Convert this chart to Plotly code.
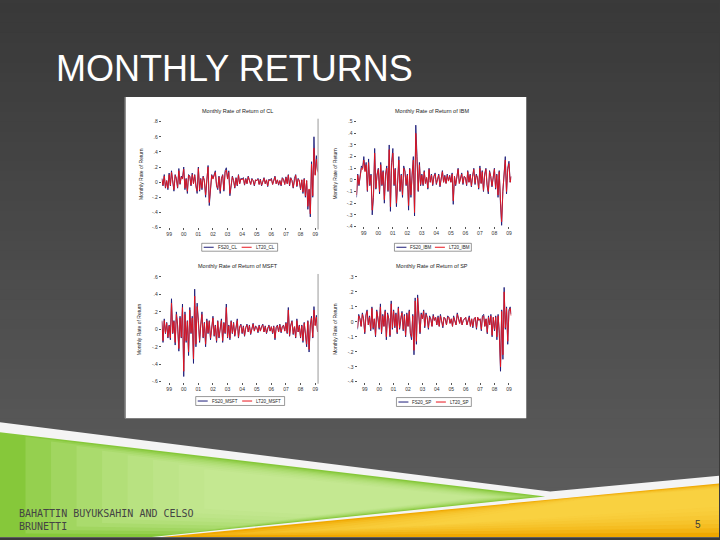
import plotly.graph_objects as go
import pandas as pd

# ---------------- data ----------------
dates = pd.date_range("1998-07-01", periods=129, freq="MS")
year_ticks = pd.date_range("1999-01-01", periods=11, freq="12MS")
year_labels = ["99", "00", "01", "02", "03", "04", "05", "06", "07", "08", "09"]

titles = ["Monthly Rate of Return of CL", "Monthly Rate of Return of IBM",
          "Monthly Rate of Return of MSFT", "Monthly Rate of Return of SP"]
fs_names = ["FS20_CL", "FS20_IBM", "FS20_MSFT", "FS20_SP"]
lt_names = ["LT20_CL", "LT20_IBM", "LT20_MSFT", "LT20_SP"]

cl_fs = [0.05,-0.05,0.10,-0.08,0.02,-0.10,
0.12,-0.05,0.15,0.02,-0.12,0.10,0.05,-0.08,0.18,-0.03,0.08,0.05,
0.20,-0.10,0.05,-0.15,0.10,0.08,-0.05,0.12,-0.02,0.10,-0.08,-0.15,
0.20,-0.12,0.05,-0.10,0.08,0.02,-0.20,0.05,0.22,-0.31,-0.05,0.10,
0.05,0.12,0.15,-0.05,-0.10,0.08,-0.15,0.05,0.10,-0.12,0.15,0.19,
0.05,0.15,-0.18,-0.05,0.08,0.02,-0.08,0.06,-0.05,0.10,-0.02,0.05,
0.04,0.06,-0.04,0.05,-0.02,0.08,0.03,-0.03,0.05,0.02,-0.05,0.03,
0.02,0.05,-0.03,0.04,-0.05,0.02,0.06,-0.02,0.03,-0.06,0.04,0.02,
0.05,-0.03,0.03,0.08,-0.02,0.03,-0.04,0.02,-0.05,0.06,0.04,-0.03,
0.07,-0.02,0.10,-0.05,0.06,0.02,-0.08,0.05,0.10,-0.06,0.05,0.02,
-0.10,0.03,-0.15,0.05,-0.20,0.02,-0.36,-0.10,-0.46,0.27,-0.20,0.60,
0.10,0.35,0.15]
cl_lt = [0.04,-0.04,0.08,-0.07,0.02,-0.08,
0.10,-0.04,0.13,0.02,-0.10,0.09,0.04,-0.07,0.15,-0.02,0.07,0.04,
0.17,-0.08,0.04,-0.12,0.09,0.07,-0.04,0.10,-0.02,0.09,-0.07,-0.12,
0.18,-0.10,0.04,-0.08,0.07,0.02,-0.17,0.04,0.20,-0.27,-0.04,0.09,
0.04,0.10,0.13,-0.04,-0.08,0.07,-0.12,0.04,0.09,-0.10,0.13,0.16,
0.04,0.13,-0.15,-0.04,0.07,0.02,-0.07,0.05,-0.04,0.09,-0.02,0.04,
0.03,0.05,-0.03,0.04,-0.02,0.07,0.03,-0.03,0.04,0.02,-0.04,0.03,
0.02,0.04,-0.03,0.03,-0.04,0.02,0.05,-0.02,0.03,-0.05,0.03,0.02,
0.04,-0.03,0.03,0.07,-0.02,0.03,-0.03,0.02,-0.04,0.05,0.03,-0.03,
0.06,-0.02,0.09,-0.04,0.05,0.02,-0.07,0.04,0.09,-0.05,0.04,0.02,
-0.09,0.03,-0.13,0.04,-0.18,0.02,-0.32,-0.09,-0.42,0.24,-0.18,0.45,
0.09,0.30,0.13]

ibm_fs = [-0.15,0.05,-0.05,0.02,0.12,0.10,
0.20,0.08,0.15,-0.10,0.18,-0.05,0.05,-0.30,-0.15,0.27,-0.08,0.05,
0.10,-0.12,0.15,-0.05,0.08,-0.20,0.05,0.12,-0.10,0.30,-0.27,0.15,
0.27,-0.05,0.10,-0.23,0.02,0.20,-0.10,0.05,-0.15,0.12,0.08,-0.05,
0.05,-0.26,0.10,-0.15,0.05,0.20,-0.31,0.47,0.20,-0.10,0.15,-0.05,
0.05,-0.05,0.08,-0.03,0.02,-0.08,0.10,-0.02,0.05,-0.05,0.03,0.06,
-0.04,0.02,0.05,-0.06,0.03,0.08,-0.02,0.04,-0.03,0.05,-0.01,0.04,
-0.02,0.06,-0.21,0.03,-0.05,0.05,0.10,-0.03,0.02,0.06,-0.04,0.03,
0.02,-0.05,0.08,-0.02,0.05,-0.06,0.03,0.10,-0.04,0.05,0.02,-0.08,
0.12,-0.03,0.08,-0.10,0.05,0.10,-0.05,-0.12,0.08,0.03,-0.06,0.05,
0.10,-0.08,0.05,-0.15,0.08,-0.20,-0.39,-0.10,0.05,0.20,-0.12,0.10,
0.16,-0.02,0.03]
ibm_lt = [-0.13,0.04,-0.04,0.02,0.10,0.09,
0.17,0.07,0.13,-0.09,0.15,-0.04,0.04,-0.26,-0.13,0.23,-0.07,0.04,
0.09,-0.10,0.13,-0.04,0.07,-0.17,0.04,0.10,-0.09,0.26,-0.23,0.13,
0.23,-0.04,0.09,-0.20,0.02,0.17,-0.09,0.04,-0.13,0.10,0.07,-0.04,
0.04,-0.22,0.09,-0.13,0.04,0.17,-0.28,0.40,0.17,-0.09,0.13,-0.04,
0.04,-0.04,0.07,-0.03,0.02,-0.07,0.09,-0.02,0.04,-0.04,0.03,0.05,
-0.03,0.02,0.04,-0.05,0.03,0.07,-0.02,0.03,-0.03,0.04,-0.01,0.03,
-0.02,0.05,-0.18,0.03,-0.04,0.04,0.09,-0.03,0.02,0.05,-0.03,0.03,
0.02,-0.04,0.07,-0.02,0.04,-0.05,0.03,0.09,-0.03,0.04,0.02,-0.07,
0.10,-0.03,0.07,-0.09,0.04,0.09,-0.04,-0.10,0.07,0.03,-0.05,0.04,
0.09,-0.07,0.04,-0.13,0.07,-0.17,-0.36,-0.09,0.04,0.17,-0.10,0.09,
0.14,-0.02,0.03]

msft_fs = [0.10,-0.15,0.12,-0.05,0.08,-0.10,
0.05,-0.12,0.35,-0.05,0.10,-0.18,0.20,0.05,-0.25,0.15,-0.10,0.29,
-0.54,0.20,-0.15,0.10,-0.30,0.25,-0.05,0.15,-0.39,0.46,-0.20,0.30,
0.10,-0.15,0.05,0.20,-0.10,0.08,-0.20,0.12,-0.05,0.10,-0.12,0.05,
0.15,-0.08,0.05,-0.15,0.10,-0.10,0.05,0.12,-0.15,0.08,-0.05,0.29,
-0.10,0.05,-0.12,0.10,-0.05,0.08,-0.08,0.05,0.12,-0.10,0.03,0.06,
-0.05,0.04,-0.08,0.02,0.06,-0.03,0.05,-0.06,0.03,0.07,-0.02,0.04,
0.02,-0.04,0.05,-0.02,0.03,0.06,-0.03,0.04,-0.05,0.02,0.05,-0.02,
0.03,-0.05,0.04,-0.12,0.02,0.05,-0.03,0.06,-0.04,0.03,0.05,-0.02,
0.08,-0.05,0.25,-0.08,0.05,0.10,-0.06,0.03,-0.10,0.12,-0.03,0.05,
-0.10,0.05,-0.15,0.08,-0.05,-0.20,0.10,-0.26,0.05,0.15,-0.10,0.26,
0.05,0.16,-0.03]
msft_lt = [0.09,-0.13,0.10,-0.04,0.07,-0.09,
0.04,-0.10,0.30,-0.04,0.09,-0.15,0.17,0.04,-0.22,0.13,-0.09,0.25,
-0.48,0.17,-0.13,0.09,-0.26,0.22,-0.04,0.13,-0.34,0.38,-0.17,0.26,
0.09,-0.13,0.04,0.17,-0.09,0.07,-0.17,0.10,-0.04,0.09,-0.10,0.04,
0.13,-0.07,0.04,-0.13,0.09,-0.09,0.04,0.10,-0.13,0.07,-0.04,0.25,
-0.09,0.04,-0.10,0.09,-0.04,0.07,-0.07,0.04,0.10,-0.09,0.03,0.05,
-0.04,0.03,-0.07,0.02,0.05,-0.03,0.04,-0.05,0.03,0.06,-0.02,0.03,
0.02,-0.03,0.04,-0.02,0.03,0.05,-0.03,0.03,-0.04,0.02,0.04,-0.02,
0.03,-0.04,0.03,-0.10,0.02,0.04,-0.03,0.05,-0.03,0.03,0.04,-0.02,
0.07,-0.04,0.22,-0.07,0.04,0.09,-0.05,0.03,-0.09,0.10,-0.03,0.04,
-0.09,0.04,-0.13,0.07,-0.04,-0.17,0.09,-0.23,0.04,0.13,-0.09,0.22,
0.04,0.14,-0.03]

sp_fs = [-0.05,0.05,0.02,-0.03,0.06,0.02,
-0.08,0.05,0.08,-0.02,0.04,-0.06,0.10,-0.05,0.02,-0.10,0.08,0.03,
-0.05,0.12,-0.08,0.05,-0.03,0.08,-0.12,0.06,0.02,-0.10,0.14,-0.05,
0.08,-0.04,0.06,-0.08,0.10,-0.05,0.03,0.07,-0.06,0.05,-0.10,0.06,
-0.03,0.08,-0.08,-0.12,0.05,-0.22,0.16,-0.15,0.18,0.05,-0.08,0.06,
0.02,0.08,-0.04,0.06,0.03,-0.05,0.04,0.02,-0.03,0.05,0.01,0.03,
-0.02,0.04,-0.03,0.05,0.01,-0.04,0.03,0.02,-0.02,0.04,0.03,-0.01,
0.02,-0.03,0.04,0.01,-0.02,0.06,0.02,-0.01,0.03,-0.02,0.01,0.02,
0.03,-0.02,0.01,0.04,-0.03,0.02,-0.04,0.02,0.03,-0.05,0.03,0.01,
0.02,-0.06,0.04,0.05,-0.03,0.02,-0.08,0.04,-0.02,0.05,-0.10,0.03,
-0.06,0.04,-0.12,0.05,-0.08,-0.33,0.08,-0.25,0.23,-0.05,0.10,-0.15,
0.08,0.10,0.05]
sp_lt = [-0.04,0.04,0.02,-0.03,0.05,0.02,
-0.07,0.04,0.07,-0.02,0.03,-0.05,0.09,-0.04,0.02,-0.09,0.07,0.03,
-0.04,0.10,-0.07,0.04,-0.03,0.07,-0.10,0.05,0.02,-0.09,0.12,-0.04,
0.07,-0.03,0.05,-0.07,0.09,-0.04,0.03,0.06,-0.05,0.04,-0.09,0.05,
-0.03,0.07,-0.07,-0.10,0.04,-0.19,0.14,-0.13,0.16,0.04,-0.07,0.05,
0.02,0.07,-0.03,0.05,0.03,-0.04,0.03,0.02,-0.03,0.04,0.01,0.03,
-0.02,0.03,-0.03,0.04,0.01,-0.03,0.03,0.02,-0.02,0.03,0.03,-0.01,
0.02,-0.03,0.03,0.01,-0.02,0.05,0.02,-0.01,0.03,-0.02,0.01,0.02,
0.03,-0.02,0.01,0.03,-0.03,0.02,-0.03,0.02,0.03,-0.04,0.03,0.01,
0.02,-0.05,0.03,0.04,-0.03,0.02,-0.07,0.03,-0.02,0.04,-0.09,0.03,
-0.05,0.03,-0.10,0.04,-0.07,-0.30,0.07,-0.22,0.20,-0.04,0.09,-0.13,
0.07,0.09,0.04]

cl_yticks = [0.8, 0.6, 0.4, 0.2, 0, -0.2, -0.4, -0.6]
cl_ylabels = [".8", ".6", ".4", ".2", "0", "-.2", "-.4", "-.6"]
ibm_yticks = [0.5, 0.4, 0.3, 0.2, 0.1, 0, -0.1, -0.2, -0.3, -0.4]
ibm_ylabels = [".5", ".4", ".3", ".2", ".1", "0", "-.1", "-.2", "-.3", "-.4"]
msft_yticks = [0.6, 0.4, 0.2, 0, -0.2, -0.4, -0.6]
msft_ylabels = [".6", ".4", ".2", "0", "-.2", "-.4", "-.6"]
sp_yticks = [0.3, 0.2, 0.1, 0, -0.1, -0.2, -0.3, -0.4]
sp_ylabels = [".3", ".2", ".1", "0", "-.1", "-.2", "-.3", "-.4"]

series_fs = [cl_fs, ibm_fs, msft_fs, sp_fs]
series_lt = [cl_lt, ibm_lt, msft_lt, sp_lt]
yticks = [cl_yticks, ibm_yticks, msft_yticks, sp_yticks]
ylabels = [cl_ylabels, ibm_ylabels, msft_ylabels, sp_ylabels]

# ---------------- layout helpers ----------------
W, H = 720, 540
def X(px): return px / W
def Y(py): return 1 - py / H

def poly(pts, color, opacity=1.0):
    path = "M " + " L ".join(f"{X(x):.5f},{Y(y):.5f}" for x, y in pts) + " Z"
    return dict(type="path", xref="paper", yref="paper", path=path,
                fillcolor=color, line=dict(width=0), opacity=opacity, layer="below")

def rect(x0, y0, x1, y1, color, opacity=1.0, line=None):
    return dict(type="rect", xref="paper", yref="paper", x0=X(x0), x1=X(x1),
                y0=Y(y1), y1=Y(y0), fillcolor=color, opacity=opacity,
                line=line or dict(width=0), layer="below")

def lerp(c1, c2, t):
    a = [int(c1[i:i + 2], 16) for i in (1, 3, 5)]
    b = [int(c2[i:i + 2], 16) for i in (1, 3, 5)]
    return "#" + "".join(f"{round(a[k] + (b[k] - a[k]) * t):02x}" for k in range(3))

def blend_pts(outer, inner, t):
    return [(o[0] + (i[0] - o[0]) * t, o[1] + (i[1] - o[1]) * t) for o, i in zip(outer, inner)]

def text(t, x, y, size, color="#222222", family="Liberation Sans", xanchor="center",
         angle=0, align="center"):
    return dict(text=t, x=X(x), y=Y(y), xref="paper", yref="paper", xanchor=xanchor,
                yanchor="middle", showarrow=False, textangle=angle, align=align,
                font=dict(size=size, color=color, family=family))

shapes = []
# background gradient
n = 54
for i in range(n):
    shapes.append(rect(0, i * 10, W, (i + 1) * 10 + 1, lerp("#393939", "#5e5e5e", i / (n - 1))))

# bottom swoosh
shapes.append(poly([(0, 424), (551, 494), (720, 478), (720, 540), (0, 540)], "#f4f4f4"))
green_outer = [(0, 434), (546, 499), (152, 540), (0, 540)]
green_core = [(230, 476), (470, 500), (340, 515), (230, 508)]
shapes.append(poly(green_outer, "#86c83a"))
for s in range(1, 9):
    shapes.append(poly(blend_pts(green_outer, green_core, s / 9), "#d2eea6", opacity=0.2))
yellow_outer = [(562, 501), (720, 486), (720, 540), (162, 540)]
yellow_core = [(600, 500), (720, 492), (720, 505), (450, 528)]
shapes.append(poly(yellow_outer, "#f0a800"))
for s in range(1, 8):
    shapes.append(poly(blend_pts(yellow_outer, yellow_core, s / 8), "#fbd94a", opacity=0.25))

# white picture area
shapes.append(rect(125, 95, 527, 420, "#ffffff"))
shapes.append(dict(type="line", xref="paper", yref="paper", x0=X(125.5), x1=X(125.5),
                   y0=Y(95), y1=Y(420), line=dict(color="#777777", width=1), layer="below"))

# panel geometry (pixels): x0, x1, ytop, ybottom
panels = [(162, 318, 120, 227), (357, 512, 120, 226),
          (162, 318, 277, 383), (358, 512, 277, 383)]
title_pos = [(238, 109), (433, 109), (238, 266), (433, 266)]
ytitle_pos = [(141, 173), (336, 173), (140, 330), (336, 330)]
legend_box = [(202, 243, 278, 251), (395, 243, 472, 251),
              (196, 398, 285, 407), (397, 399, 472, 408)]

fig = go.Figure()
annotations = []
layout = dict(width=W, height=H, margin=dict(l=0, r=0, t=0, b=0),
              paper_bgcolor="#3a3a3a", plot_bgcolor="rgba(0,0,0,0)", showlegend=False)

NAVY = "#1c1c78"
RED = "#e8141c"
for k in range(4):
    sx = "" if k == 0 else str(k + 1)
    x0, x1, yt, yb = panels[k]
    fig.add_trace(go.Scatter(x=dates, y=series_fs[k], mode="lines", name=fs_names[k],
                             line=dict(color=NAVY, width=0.9), xaxis="x" + sx, yaxis="y" + sx))
    fig.add_trace(go.Scatter(x=dates, y=series_lt[k], mode="lines", name=lt_names[k],
                             line=dict(color=RED, width=0.9), xaxis="x" + sx, yaxis="y" + sx))
    common = dict(showgrid=False, zeroline=False, showline=False, ticks="outside", ticklen=2,
                  tickwidth=0.5, tickcolor="#555555",
                  tickfont=dict(size=5, color="#333333", family="Liberation Sans"))
    layout["xaxis" + sx] = dict(domain=[X(x0), X(x1)], anchor="y" + sx,
                                range=[dates[0], dates[-1]], tickvals=list(year_ticks),
                                ticktext=year_labels, **common)
    layout["yaxis" + sx] = dict(domain=[Y(yb), Y(yt)], anchor="x" + sx,
                                range=[yticks[k][-1], yticks[k][0]], tickvals=yticks[k],
                                ticktext=ylabels[k], **common)
    tx, ty = title_pos[k]
    annotations.append(text(titles[k], tx, ty, 5.5))
    ax_, ay_ = ytitle_pos[k]
    annotations.append(text("Monthly Rate of Return", ax_, ay_, 5, angle=-90))
    # legend box
    lx0, ly0, lx1, ly1 = legend_box[k]
    shapes.append(dict(type="rect", xref="paper", yref="paper", x0=X(lx0), x1=X(lx1),
                       y0=Y(ly1), y1=Y(ly0), fillcolor="#ffffff",
                       line=dict(color="#555555", width=0.6), layer="above"))
    ym = (ly0 + ly1) / 2
    half = (lx1 - lx0) / 2
    seg = 10
    shapes.append(dict(type="line", xref="paper", yref="paper", x0=X(lx0 + 2),
                       x1=X(lx0 + 2 + seg), y0=Y(ym), y1=Y(ym),
                       line=dict(color=NAVY, width=1), layer="above"))
    shapes.append(dict(type="line", xref="paper", yref="paper", x0=X(lx0 + half + 2),
                       x1=X(lx0 + half + 2 + seg), y0=Y(ym), y1=Y(ym),
                       line=dict(color=RED, width=1), layer="above"))
    annotations.append(text(fs_names[k], lx0 + 4 + seg, ym, 4.5, xanchor="left"))
    annotations.append(text(lt_names[k], lx0 + half + 4 + seg, ym, 4.5, xanchor="left"))

# grey vertical edge lines on left panels
for (x0, x1, yt, yb) in [panels[0], panels[2]]:
    shapes.append(dict(type="line", xref="paper", yref="paper", x0=X(x1 + 0.5), x1=X(x1 + 0.5),
                       y0=Y(yb + 2), y1=Y(yt - 3), line=dict(color="#999999", width=1),
                       layer="above"))

# slide texts
annotations.append(text("MONTHLY RETURNS", 54, 66, 36, color="#ffffff", xanchor="left"))
annotations.append(text("BAHATTIN BUYUKSAHIN AND CELSO<br>BRUNETTI", 17, 523, 10,
                        color="#444444", family="DejaVu Sans Mono", xanchor="left",
                        align="left"))
annotations.append(text("5", 699, 527, 10, color="#3a3a3a"))

layout["shapes"] = shapes
layout["annotations"] = annotations
fig.update_layout(**layout)
fig.write_html("out.html", config={"displayModeBar": False},
               post_script="document.body.style.margin='0';document.body.style.padding='0';"
                           "document.body.style.background='#3a3a3a';")
